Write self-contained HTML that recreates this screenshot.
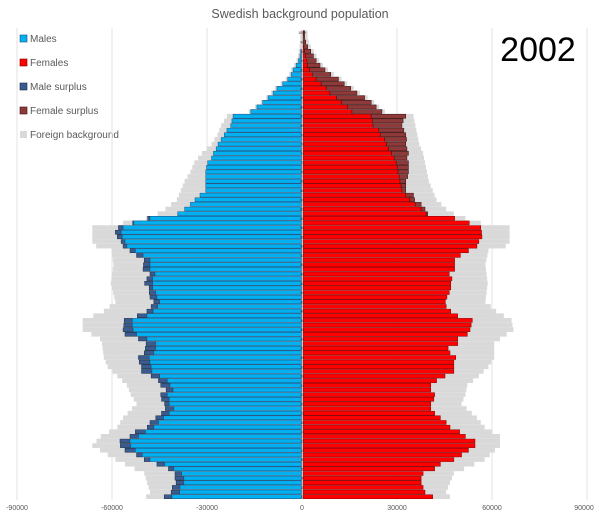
<!DOCTYPE html>
<html><head><meta charset="utf-8"><style>
html,body{margin:0;padding:0;background:#fff;}
svg{display:block;font-family:"Liberation Sans",sans-serif;}
</style></head><body>
<svg id="c" width="600" height="516" viewBox="0 0 600 516" xmlns="http://www.w3.org/2000/svg">
<rect width="600" height="516" fill="#fff"/>
<text x="300" y="18" text-anchor="middle" font-size="12.5" fill="#595959">Swedish background population</text>
<text x="538" y="61" text-anchor="middle" font-size="34" fill="#000">2002</text>
<g font-size="10" fill="#595959">
<rect x="20" y="35" width="7" height="7" fill="#00b0f0" stroke="#1f4e79" stroke-width="0.6"/><text x="30" y="42">Males</text>
<rect x="20" y="59" width="7" height="7" fill="#ff0000" stroke="#7f0000" stroke-width="0.6"/><text x="30" y="66">Females</text>
<rect x="20" y="83" width="7" height="7" fill="#3a5b8f" stroke="#1a2a40" stroke-width="0.6"/><text x="30" y="90">Male surplus</text>
<rect x="20" y="107" width="7" height="7" fill="#8e3a3a" stroke="#3a1010" stroke-width="0.6"/><text x="30" y="114">Female surplus</text>
<rect x="20" y="131" width="7" height="7" fill="#d9d9d9"/><text x="30" y="138">Foreign background</text>
</g>
<g id="grid" stroke="#e3e3e3" stroke-width="1"></g>
<g id="bars"></g>
<g font-size="7" fill="#595959" text-anchor="middle">
<text x="17" y="510">-90000</text><text x="112" y="510">-60000</text><text x="207" y="510">-30000</text>
<text x="302" y="510">0</text><text x="397" y="510">30000</text><text x="492" y="510">60000</text><text x="584" y="510">90000</text>
</g>
</svg>
<script>
// [age, maleBlue, maleDark, femRed, femDark, greyL, greyR] in zoom coords (divide by 2.6)
var up={100:[786,786,790,792],99:[786,786,788,792],98:[786,786,788,795],97:[784,784,790,800],96:[782,782,792,808],95:[780,780,795,815],94:[776,776,798,822],93:[770,770,800,832],92:[762,762,805,845],91:[757,757,812,860],90:[748,748,822,880],89:[735,735,835,895],88:[720,720,848,912],87:[710,710,858,928],86:[697,697,875,948],85:[683,683,888,965],84:[668,668,903,978],83:[652,652,915,993],82:[606,606,965,1055],81:[603,603,968,1048],80:[600,600,970,1045],79:[590,590,985,1050],78:[583,583,990,1055],77:[575,575,1000,1057],76:[567,567,1005,1055],75:[562,562,1010,1058],74:[555,555,1018,1062],73:[550,550,1025,1058],72:[540,540,1030,1062],71:[537,537,1033,1062],70:[535,535,1035,1062],69:[535,535,1038,1060],68:[535,535,1040,1055],67:[535,535,1043,1055],66:[535,535,1045,1055],65:[520,520,1055,1075],64:[507,507,1065,1078],63:[495,495,1080,1095],62:[480,480,1095,1105],61:[462,462,1108,1112],
60:[390,384,1182,1182],59:[348,345,1220,1220],58:[320,308,1250,1250],57:[315,300,1252,1252],56:[318,305,1253,1253],55:[325,315,1245,1245],54:[330,320,1240,1240],53:[352,338,1218,1218],52:[372,355,1197,1197],51:[390,375,1182,1182],50:[390,373,1182,1182],49:[390,372,1182,1182],48:[403,390,1168,1168],47:[397,382,1175,1175],46:[397,376,1172,1172],45:[397,388,1172,1172],44:[405,388,1168,1168],43:[408,390,1162,1162],42:[415,400,1158,1158],41:[410,393,1160,1160],40:[398,382,1172,1172],39:[382,357,1190,1190],38:[344,323,1228,1228],37:[344,322,1225,1225],36:[346,320,1222,1222],35:[355,325,1215,1215],34:[382,360,1190,1190],33:[405,380,1190,1190],32:[405,378,1165,1165],31:[400,375,1170,1170],30:[388,360,1185,1185],29:[390,362,1180,1180],28:[393,368,1180,1180],27:[395,368,1180,1180],26:[415,393,1157,1157],25:[435,412,1135,1135],24:[442,418,1120,1120],23:[450,432,1120,1120],22:[435,418,1130,1130],21:[440,420,1128,1128],20:[440,428,1120,1120],19:[452,430,1120,1120],18:[440,420,1130,1130],17:[425,405,1145,1145],16:[412,390,1160,1160],15:[400,383,1170,1170],14:[378,352,1195,1195],13:[360,338,1210,1210],12:[338,312,1235,1235],11:[340,313,1235,1235],10:[352,325,1218,1218],9:[370,355,1200,1200],8:[390,375,1180,1180],7:[428,408,1145,1145],6:[452,438,1130,1130],5:[472,455,1100,1100],4:[478,455,1095,1095],3:[478,458,1095,1095],2:[468,448,1100,1100],1:[467,445,1105,1105],0:[447,427,1125,1125]};
var gk=[[0,380,1170],[1,390,1160],[5,375,1180],[8,300,1260],[11,240,1300],[13,262,1300],[15,305,1260],[17,320,1240],[20,355,1200],[22,340,1210],[24,330,1215],[26,305,1245],[28,280,1270],[30,270,1285],[33,265,1285],[34,260,1300],[36,215,1335],[38,215,1330],[40,270,1290],[42,300,1262],[46,288,1268],[50,295,1262],[53,290,1270],[54,250,1315],[55,240,1325],[58,240,1325],[59,320,1250],[60,380,1210],[61,410,1180],[62,430,1160],[64,460,1135],[66,470,1125],[68,480,1115],[70,495,1110],[72,505,1105],[74,525,1100],[76,550,1090],[78,565,1085],[80,575,1080],[82,590,1075]];
function grey(a){for(var i=0;i<gk.length-1;i++){var p=gk[i],q=gk[i+1];if(a>=p[0]&&a<=q[0]){var t=(a-p[0])/(q[0]-p[0]);return[p[1]+t*(q[1]-p[1]),p[2]+t*(q[2]-p[2])];}}return null;}
var NS="http://www.w3.org/2000/svg",bars=document.getElementById('bars'),grid=document.getElementById('grid');
[17,112,207,397,492,587].forEach(function(x){var l=document.createElementNS(NS,'line');l.setAttribute('x1',x);l.setAttribute('x2',x);l.setAttribute('y1',28);l.setAttribute('y2',500);grid.appendChild(l);});
function R(x,y,w,h,f,s){if(w<=0)return;var r=document.createElementNS(NS,'rect');r.setAttribute('x',x.toFixed(2));r.setAttribute('y',y.toFixed(2));r.setAttribute('width',w.toFixed(2));r.setAttribute('height',h.toFixed(2));r.setAttribute('fill',f);if(s){r.setAttribute('stroke',s);r.setAttribute('stroke-width','0.5');}bars.appendChild(r);}
var C=302.3,H=4.64,B=499;
for(var a=0;a<=100;a++){
 var d=up[a],y=B-(a+1)*H;
 var mb=d[0]/2.6,md=d[1]/2.6,fr=d[2]/2.6,fd=d[3]/2.6;
 var g=grey(a);var gl=g?g[0]/2.6:md-2,gr=g?g[1]/2.6:fd+3;
 if(a>82){gl=md-2;gr=fd+3;}
 gl=Math.min(gl,md);gr=Math.max(gr,fd);
 R(gl,y,C-gl,H,'#d9d9d9');R(C,y,gr-C,H,'#d9d9d9');
 if(md<mb)R(md,y+0.3,mb-md,H-0.6,'#3a5b8f','#1a2a40');
 R(mb,y+0.3,C-0.8-mb,H-0.6,'#00b0f0','#1f4e79');
 R(C+0.8,y+0.3,fr-C-0.8,H-0.6,'#ff0000','#7f0000');
 if(fd>fr)R(fr,y+0.3,fd-fr,H-0.6,'#8e3a3a','#3a1010');
 if(a%2==0){var t=document.createElementNS(NS,'text');t.setAttribute('x',C);t.setAttribute('y',(y+H-0.8).toFixed(2));t.setAttribute('font-size','3.6');t.setAttribute('text-anchor','middle');t.setAttribute('fill','#333');t.textContent=a==100?'100+':a;bars.appendChild(t);}
}
</script>
</body></html>
